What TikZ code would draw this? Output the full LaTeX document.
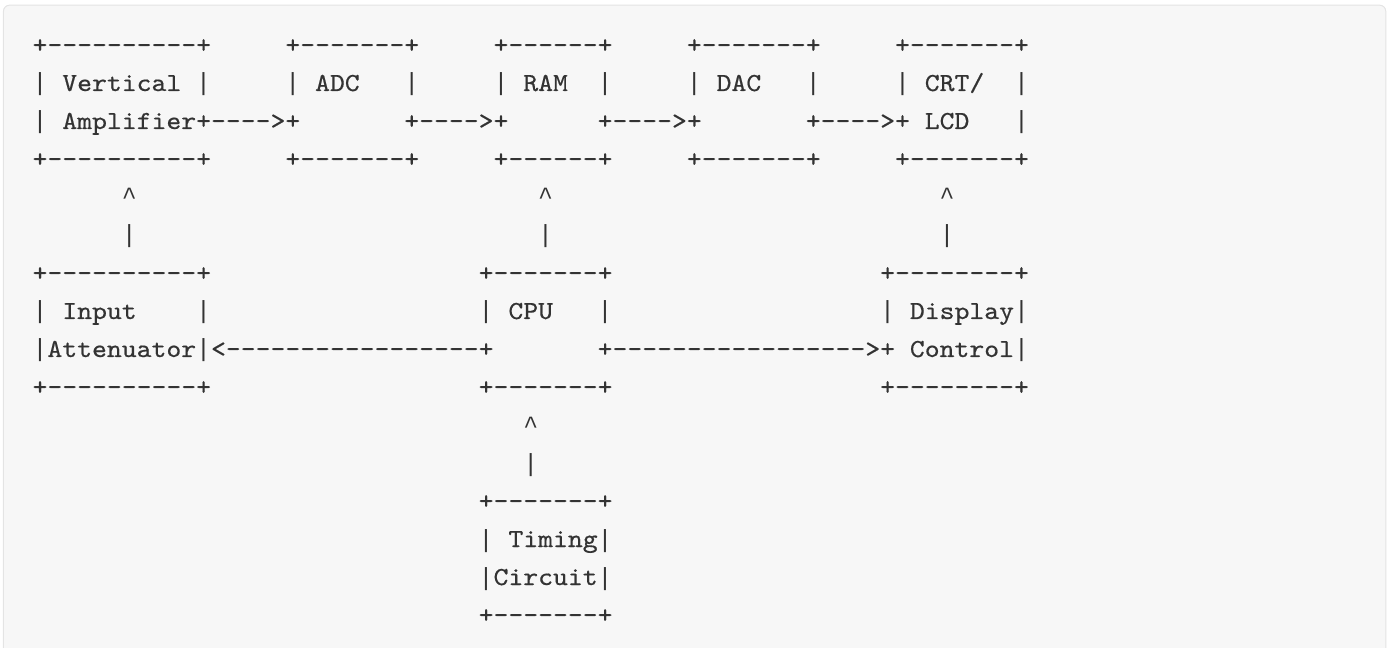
\documentclass[tikz,border=0pt]{standalone}
\usepackage{fontspec}
\setmonofont{lmmono10-regular.otf}[FakeStretch=1.0894, FakeBold=0.5]
\newfontfamily\caretfont{Liberation Mono}
\usepackage{xcolor}
\usepackage{tikz}
\definecolor{codebg}{HTML}{F7F7F7}
\definecolor{codeedge}{HTML}{E4E4E4}
\definecolor{codeink}{HTML}{333333}
% tall bar and caret, same cell width as the mono text
\newcommand{\pipe}{{\caretfont\fontsize{18.59pt}{22pt}\selectfont|}}
\newcommand{\tip}{{\caretfont\fontsize{18.59pt}{22pt}\selectfont\textasciicircum}}

\begin{document}
\begin{tikzpicture}[x=11.1525pt, y=-28.5pt,
  ascii/.style={font=\ttfamily\fontsize{19.5pt}{22pt}\selectfont, text=codeink,
    inner sep=0pt, outer sep=0pt, anchor=base west}]
  \useasboundingbox (0pt,0pt) rectangle (1041pt,-486pt);
  % code block panel, open at the bottom
  \filldraw[fill=codebg, draw=codeedge, line width=0.75pt, rounded corners=4.5pt]
    (2.6pt,-3.9pt) rectangle (1039.3pt,-520pt);

  % one unit = one character cell, (column,row)
  \begin{scope}[shift={(24.45pt,-11.25pt)}]
  % signal chain
  \node[ascii] (vamp1) at (0,1) {+----------+};
  \node[ascii] (adc1) at (17,1) {+-------+};
  \node[ascii] (ram1) at (31,1) {+------+};
  \node[ascii] (dac1) at (44,1) {+-------+};
  \node[ascii] (crt1) at (58,1) {+-------+};

  \node[ascii] (vamp2) at (0,2) {\pipe~Vertical~\pipe};
  \node[ascii] (adc2) at (17,2) {\pipe~ADC~~~\pipe};
  \node[ascii] (ram2) at (31,2) {\pipe~RAM~~\pipe};
  \node[ascii] (dac2) at (44,2) {\pipe~DAC~~~\pipe};
  \node[ascii] (crt2) at (58,2) {\pipe~CRT/~~\pipe};

  \node[ascii] (vamp3) at (0,3) {\pipe~Amplifier+};
  \node[ascii] (vamp-adc) at (12,3) {---->};
  \node[ascii] (adc3) at (17,3) {+~~~~~~~+};
  \node[ascii] (adc-ram) at (26,3) {---->};
  \node[ascii] (ram3) at (31,3) {+~~~~~~+};
  \node[ascii] (ram-dac) at (39,3) {---->};
  \node[ascii] (dac3) at (44,3) {+~~~~~~~+};
  \node[ascii] (dac-crt) at (53,3) {---->};
  \node[ascii] (crt3) at (58,3) {+~LCD~~~\pipe};

  \node[ascii] (vamp4) at (0,4) {+----------+};
  \node[ascii] (adc4) at (17,4) {+-------+};
  \node[ascii] (ram4) at (31,4) {+------+};
  \node[ascii] (dac4) at (44,4) {+-------+};
  \node[ascii] (crt4) at (58,4) {+-------+};

  % upward links into the chain
  \foreach \c/\n in {6/vamp, 34/ram, 61/crt} {
    \node[ascii] (\n-tip) at (\c,5) {\tip};
    \node[ascii] (\n-stem) at (\c,6) {\pipe};
  }

  % control row
  \node[ascii] (att1) at (0,7) {+----------+};
  \node[ascii] (cpu1) at (30,7) {+-------+};
  \node[ascii] (disp1) at (57,7) {+--------+};

  \node[ascii] (att2) at (0,8) {\pipe~Input~~~~\pipe};
  \node[ascii] (cpu2) at (30,8) {\pipe~CPU~~~\pipe};
  \node[ascii] (disp2) at (57,8) {\pipe~Display\pipe};

  \node[ascii] (att3) at (0,9) {\pipe Attenuator\pipe};
  \node[ascii] (cpu-att) at (12,9) {<-----------------};
  \node[ascii] (cpu3) at (30,9) {+~~~~~~~+};
  \node[ascii] (cpu-disp) at (39,9) {----------------->};
  \node[ascii] (disp3) at (57,9) {+~Control\pipe};

  \node[ascii] (att4) at (0,10) {+----------+};
  \node[ascii] (cpu4) at (30,10) {+-------+};
  \node[ascii] (disp4) at (57,10) {+--------+};

  % clock source
  \node[ascii] (tim-tip) at (33,11) {\tip};
  \node[ascii] (tim-stem) at (33,12) {\pipe};
  \node[ascii] (tim1) at (30,13) {+-------+};
  \node[ascii] (tim2) at (30,14) {\pipe~Timing\pipe};
  \node[ascii] (tim3) at (30,15) {\pipe Circuit\pipe};
  \node[ascii] (tim4) at (30,16) {+-------+};
  \end{scope}
\end{tikzpicture}
\end{document}
